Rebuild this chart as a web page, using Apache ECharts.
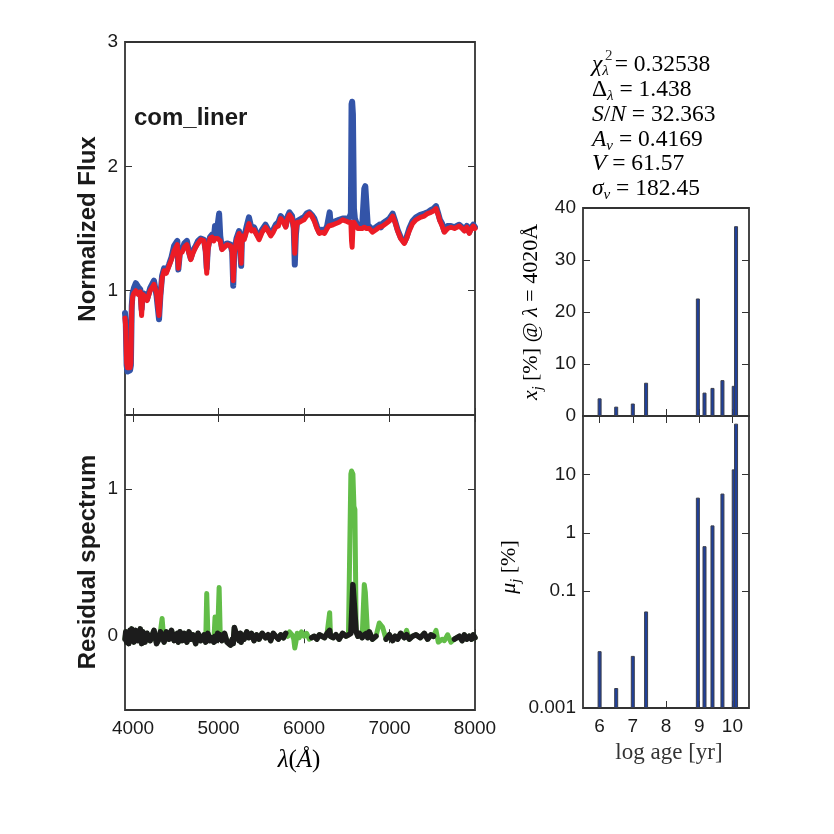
<!DOCTYPE html>
<html>
<head>
<meta charset="utf-8">
<script src="https://cdn.jsdelivr.net/npm/echarts@6/dist/echarts.min.js"></script>
<style>
  html, body { margin: 0; padding: 0; background: #fff; }
  #chart { width: 834px; height: 834px; }
</style>
</head>
<body>
<div id="chart"></div>
<script>
// spectrum grid (Angstrom), rows of 10
const wavelength = [
  3906, 3915, 3925, 3935, 3950, 3965, 3975, 3985, 3995, 4010,
  4032, 4060, 4085, 4100, 4115, 4140, 4164, 4200, 4245, 4275,
  4304, 4320, 4340, 4363, 4390, 4421, 4450, 4480, 4518, 4530,
  4550, 4575, 4600, 4630, 4655, 4675, 4700, 4733, 4760, 4792,
  4830, 4850, 4862, 4875, 4900, 4924, 4945, 4959, 4975, 4990,
  5007, 5020, 5040, 5070, 5100, 5140, 5160, 5172, 5185, 5210,
  5240, 5255, 5265, 5275, 5300, 5330, 5356, 5385, 5415, 5445,
  5474, 5510, 5550, 5580, 5610, 5640, 5669, 5700, 5727, 5760,
  5786, 5810, 5830, 5860, 5880, 5892, 5905, 5920, 5945, 5970,
  6000, 6030, 6062, 6090, 6120, 6150, 6179, 6210, 6240, 6270,
  6290, 6300, 6310, 6340, 6374, 6410, 6452, 6491, 6520, 6540,
  6548, 6556, 6563, 6572, 6584, 6595, 6610, 6630, 6647, 6680,
  6705, 6717, 6731, 6745, 6764, 6800, 6842, 6880, 6900, 6920,
  6960, 6998, 7037, 7065, 7095, 7130, 7173, 7200, 7231, 7270,
  7310, 7360, 7407, 7445, 7485, 7515, 7544, 7570, 7590, 7615,
  7641, 7680, 7719, 7760, 7816, 7850, 7875, 7905, 7933, 7960,
  7980, 8000
]

// observed flux (blue)
const fluxObs = [
  0.82, 0.74, 0.40, 0.35, 0.34, 0.36, 0.40, 0.88, 0.98, 1.02,
  1.06, 1.03, 1.01, 0.85, 0.98, 0.97, 0.93, 1.02, 1.08, 0.96,
  0.77, 0.96, 1.12, 1.18, 1.16, 1.21, 1.27, 1.36, 1.40, 1.17,
  1.32, 1.33, 1.38, 1.40, 1.31, 1.26, 1.32, 1.36, 1.40, 1.42,
  1.41, 1.32, 1.18, 1.34, 1.43, 1.45, 1.42, 1.52, 1.45, 1.44,
  1.62, 1.44, 1.34, 1.37, 1.38, 1.37, 1.31, 1.04, 1.32, 1.42,
  1.48, 1.47, 1.20, 1.45, 1.43, 1.52, 1.59, 1.50, 1.51, 1.46,
  1.43, 1.49, 1.53, 1.49, 1.46, 1.49, 1.53, 1.55, 1.60, 1.57,
  1.52, 1.60, 1.63, 1.60, 1.50, 1.21, 1.45, 1.56, 1.57, 1.58,
  1.59, 1.62, 1.63, 1.61, 1.58, 1.52, 1.47, 1.49, 1.48, 1.52,
  1.53, 1.63, 1.55, 1.55, 1.56, 1.57, 1.58, 1.58, 1.57, 1.56,
  1.62, 2.50, 2.52, 2.42, 1.66, 1.58, 1.55, 1.52, 1.53, 1.52,
  1.82, 1.84, 1.83, 1.53, 1.52, 1.49, 1.51, 1.53, 1.51, 1.54,
  1.56, 1.58, 1.62, 1.56, 1.49, 1.43, 1.39, 1.43, 1.50, 1.56,
  1.59, 1.61, 1.62, 1.63, 1.65, 1.66, 1.68, 1.62, 1.57, 1.54,
  1.48, 1.52, 1.52, 1.51, 1.53, 1.51, 1.49, 1.52, 1.47, 1.51,
  1.53, 1.51
]

// synthetic (model) flux (red)
const fluxModel = [
  0.78, 0.70, 0.42, 0.38, 0.37, 0.38, 0.42, 0.85, 0.95, 0.98,
  1.00, 0.97, 0.99, 0.80, 0.97, 0.95, 0.92, 1.00, 1.05, 0.98,
  0.80, 0.95, 1.10, 1.16, 1.14, 1.20, 1.25, 1.32, 1.37, 1.18,
  1.30, 1.31, 1.35, 1.37, 1.30, 1.25, 1.30, 1.35, 1.38, 1.41,
  1.40, 1.30, 1.14, 1.32, 1.42, 1.43, 1.40, 1.42, 1.41, 1.42,
  1.43, 1.40, 1.33, 1.35, 1.37, 1.36, 1.32, 1.08, 1.30, 1.40,
  1.46, 1.46, 1.22, 1.44, 1.41, 1.48, 1.54, 1.48, 1.49, 1.45,
  1.41, 1.47, 1.51, 1.48, 1.44, 1.47, 1.51, 1.52, 1.58, 1.55,
  1.51, 1.58, 1.61, 1.58, 1.50, 1.30, 1.48, 1.55, 1.55, 1.56,
  1.57, 1.60, 1.62, 1.60, 1.56, 1.50, 1.46, 1.47, 1.46, 1.50,
  1.52, 1.53, 1.52, 1.53, 1.54, 1.55, 1.57, 1.56, 1.55, 1.54,
  1.55, 1.40, 1.35, 1.50, 1.55, 1.54, 1.52, 1.50, 1.51, 1.50,
  1.51, 1.50, 1.50, 1.50, 1.50, 1.47, 1.49, 1.51, 1.50, 1.52,
  1.54, 1.56, 1.60, 1.55, 1.48, 1.42, 1.38, 1.42, 1.48, 1.54,
  1.57, 1.59, 1.60, 1.62, 1.63, 1.64, 1.66, 1.61, 1.56, 1.52,
  1.47, 1.50, 1.51, 1.50, 1.52, 1.50, 1.48, 1.51, 1.46, 1.50,
  1.52, 1.50
]

// residual of fitted pixels (black), null where masked
const residFit = [
  -0.02, 0.03, -0.04, 0.02, -0.05, 0.04, -0.03, 0.05, 0.01, -0.04,
  0.04, -0.03, 0.05, -0.05, 0.03, -0.04, 0.02, -0.03, 0.04, -0.05,
  -0.02, 0.03, 0.01, -0.04, 0.03, -0.02, 0.04, -0.03, 0.02, -0.04,
  0.03, -0.03, 0.02, -0.04, 0.03, -0.02, 0.01, -0.05, 0.02, -0.03,
  0.01, -0.04, -0.05, 0.02, -0.03, -0.01, -0.04, 0.00, -0.03, 0.02,
  -0.02, 0.01, -0.03, 0.02, -0.04, -0.06, -0.02, -0.05, 0.06, 0.01,
  -0.03, 0.02, -0.04, 0.01, -0.02, 0.03, -0.01, 0.02, -0.03, 0.01,
  -0.02, 0.02, -0.01, 0.01, -0.03, 0.02, 0.00, -0.02, 0.01, -0.01,
  0.02, null, null, null, null, null, null, null, null, null,
  null, null, null, -0.01, 0.00, -0.02, 0.01, 0.00, -0.01, 0.02,
  0.01, 0.04, 0.00, -0.01, 0.01, -0.02, 0.02, 0.00, 0.01, 0.00,
  0.02, 0.02, 0.02, 0.35, 0.35, 0.35, 0.03, 0.00, 0.02, -0.01,
  0.01, 0.00, 0.02, -0.01, 0.03, -0.02, 0.00, null, null, null,
  -0.02, 0.01, -0.03, 0.00, -0.02, 0.02, -0.01, 0.01, -0.02, 0.00,
  0.01, -0.01, 0.02, -0.02, 0.01, 0.00, null, null, null, null,
  null, null, null, -0.02, 0.00, -0.03, 0.01, -0.02, 0.00, -0.02,
  0.01, -0.01
]

// residual including masked / clipped pixels (green)
const residAll = [
  -0.02, 0.03, -0.04, 0.02, -0.05, 0.04, -0.03, 0.05, 0.01, -0.04,
  0.04, -0.03, 0.05, -0.05, 0.03, -0.04, 0.02, -0.03, 0.04, -0.05,
  -0.02, 0.03, 0.12, -0.04, 0.03, -0.02, 0.04, -0.03, 0.02, -0.04,
  0.03, -0.03, 0.02, -0.04, 0.03, -0.02, 0.01, -0.05, 0.02, -0.03,
  0.01, -0.04, 0.29, 0.02, -0.03, -0.01, -0.04, 0.13, -0.03, 0.02,
  0.33, 0.01, -0.03, 0.02, -0.04, -0.06, -0.02, -0.05, 0.06, 0.01,
  -0.03, 0.02, -0.04, 0.01, -0.02, 0.03, -0.01, 0.02, -0.03, 0.01,
  -0.02, 0.02, -0.01, 0.01, -0.03, 0.02, 0.00, -0.02, 0.01, -0.01,
  0.02, 0.00, 0.03, 0.01, -0.02, -0.08, -0.04, 0.02, -0.01, 0.03,
  0.00, 0.02, -0.02, -0.01, 0.00, -0.02, 0.01, 0.00, -0.01, 0.02,
  0.01, 0.16, 0.00, -0.01, 0.01, -0.02, 0.02, 0.00, 0.01, 0.00,
  1.10, 1.12, 1.12, 1.10, 0.88, 0.86, 0.03, 0.00, 0.02, -0.01,
  0.35, 0.30, 0.29, -0.01, 0.03, -0.02, 0.00, 0.09, 0.10, 0.06,
  -0.02, 0.01, -0.03, 0.00, -0.02, 0.02, -0.01, 0.04, -0.02, 0.00,
  0.01, -0.01, 0.02, -0.02, 0.01, 0.00, 0.04, -0.04, -0.05, -0.02,
  -0.03, 0.01, -0.04, -0.02, 0.00, -0.03, 0.01, -0.02, 0.00, -0.02,
  0.01, -0.01
]

// population vectors
const logAge = [6.0, 6.5, 7.0, 7.4, 8.96, 9.16, 9.4, 9.7, 10.04, 10.11]
const lightFrac = [3.4, 1.8, 2.4, 6.4, 22.6, 4.5, 5.4, 6.9, 5.8, 36.5]
const massFrac = [0.0094, 0.0022, 0.0078, 0.045, 4.0, 0.59, 1.34, 4.7, 12.2, 74]

// ticks
const waveTicks = [4000, 5000, 6000, 7000, 8000]
const fluxTicks = [1, 2, 3]
const residTicks = [0, 1]
const ageTicks = [6, 7, 8, 9, 10]
const massTicks = [0.001, 0.1, 1, 10]

// fit summary
const statText = [
  '{i|χ}{sb|λ}{eq| = }{r|0.32538}',
  '{r|Δ}{sb|λ}{eq| = }{r|1.438}',
  '{i|S}{r|/}{i|N}{eq| = }{r|32.363}',
  '{i|A}{sb|v}{eq| = }{r|0.4169}',
  '{i|V}{eq| = }{r|61.57}',
  '{i|σ}{sb|v}{eq| = }{r|182.45}'
]

const SANS = 'Liberation Sans'
const SERIF = 'Liberation Serif'
const pair = (xs, ys) => xs.map((x, i) => [x, ys[i]])

function axis (grid, pos, type, min, max, ticks, showLabel, fmt) {
  let margin = 7
  if (pos === 'bottom') margin = 9
  const a = {
    type: type,
    gridIndex: grid,
    position: pos,
    min: min,
    max: max,
    axisLine: { show: false },
    splitLine: { show: false },
    axisTick: { show: true, inside: true, length: 7, lineStyle: { color: '#333', width: 1 } },
    axisLabel: {
      show: showLabel,
      color: '#1a1a1a',
      fontFamily: SANS,
      fontSize: 19,
      margin: margin,
      formatter: fmt || (v => String(v))
    }
  }
  if (ticks) {
    a.axisTick.customValues = ticks
    a.axisLabel.customValues = ticks
  }
  if (type === 'log') { a.logBase = 10; a.startValue = min }
  return a
}

const serifRich = {
  r: { fontFamily: SERIF, fontSize: 22, color: '#333', lineHeight: 28 },
  i: { fontFamily: SERIF, fontSize: 22, fontStyle: 'italic', color: '#333', lineHeight: 28 },
  sb: { fontFamily: SERIF, fontSize: 14, fontStyle: 'italic', color: '#333', lineHeight: 15, verticalAlign: 'bottom' }
}
const statRich = {
  r: { fontFamily: SERIF, fontSize: 23.5, color: '#333', lineHeight: 28 },
  i: { fontFamily: SERIF, fontSize: 23.5, fontStyle: 'italic', color: '#333', lineHeight: 28 },
  eq: { fontFamily: SERIF, fontSize: 23.5, color: '#333', lineHeight: 28 },
  sb: { fontFamily: SERIF, fontSize: 15, fontStyle: 'italic', color: '#333', lineHeight: 15, verticalAlign: 'bottom' }
}

const graphics = [
  { type: 'text', x: 134, y: 118, style: { text: 'com_liner', font: 'bold 24px ' + SANS, fill: '#1a1a1a', textVerticalAlign: 'middle' } },
  { type: 'text', x: 88, y: 229, rotation: Math.PI / 2, style: { text: 'Normalized Flux', font: 'bold 24px ' + SANS, fill: '#1a1a1a', textAlign: 'center', textVerticalAlign: 'middle' } },
  { type: 'text', x: 88, y: 562, rotation: Math.PI / 2, style: { text: 'Residual spectrum', font: 'bold 24px ' + SANS, fill: '#1a1a1a', textAlign: 'center', textVerticalAlign: 'middle' } },
  { type: 'text', x: 299, y: 760, style: { text: '{i|λ}{r|(}{i|Å}{r|)}', rich: { r: { fontFamily: SERIF, fontSize: 25, color: '#333' }, i: { fontFamily: SERIF, fontSize: 25, fontStyle: 'italic', color: '#333' } }, textAlign: 'center', textVerticalAlign: 'middle' } },
  { type: 'text', x: 669, y: 753, style: { text: 'log age [yr]', font: '23px ' + SERIF, fill: '#333', textAlign: 'center', textVerticalAlign: 'middle' } },
  { type: 'text', x: 531, y: 312, rotation: Math.PI / 2, style: { text: '{i|x}{sb|j}{r| [%] @ }{i|λ}{r| = 4020Å}', rich: serifRich, textAlign: 'center', textVerticalAlign: 'middle' } },
  { type: 'text', x: 509, y: 567, rotation: Math.PI / 2, style: { text: '{i|μ}{sb|j}{r| [%]}', rich: serifRich, textAlign: 'center', textVerticalAlign: 'middle' } }
]
statText.forEach((t, k) => {
  graphics.push({ type: 'text', x: 592, y: 65 + k * 24.8, style: { text: t, rich: statRich, textVerticalAlign: 'middle' } })
})
// superscript 2 of chi
graphics.push({ type: 'text', x: 605, y: 56, style: { text: '2', font: '15px ' + SERIF, fill: '#333', textVerticalAlign: 'middle' } })

const gridStyle = { show: true, borderColor: '#333', borderWidth: 1.8, backgroundColor: 'transparent' }

const myChart = echarts.init(document.getElementById('chart'), null, { renderer: 'canvas' })
myChart.setOption({
  animation: false,
  backgroundColor: '#fff',
  grid: [
    Object.assign({ left: 125, top: 42, width: 350, height: 373 }, gridStyle),
    Object.assign({ left: 125, top: 415, width: 350, height: 295 }, gridStyle),
    Object.assign({ left: 583, top: 208, width: 166, height: 208 }, gridStyle),
    Object.assign({ left: 583, top: 416, width: 166, height: 292 }, gridStyle)
  ],
  xAxis: [
    axis(0, 'bottom', 'value', 3906, 8000, waveTicks, false),
    axis(0, 'top', 'value', 3906, 8000, waveTicks, false),
    axis(1, 'bottom', 'value', 3906, 8000, waveTicks, true),
    axis(1, 'top', 'value', 3906, 8000, waveTicks, false),
    axis(2, 'bottom', 'value', 5.5, 10.5, ageTicks, false),
    axis(2, 'top', 'value', 5.5, 10.5, ageTicks, false),
    axis(3, 'bottom', 'value', 5.5, 10.5, ageTicks, true),
    axis(3, 'top', 'value', 5.5, 10.5, ageTicks, false)
  ],
  yAxis: [
    axis(0, 'left', 'value', 0, 3, fluxTicks, true),
    axis(0, 'right', 'value', 0, 3, fluxTicks, false),
    axis(1, 'left', 'value', -0.5, 1.5, residTicks, true),
    axis(1, 'right', 'value', -0.5, 1.5, residTicks, false),
    Object.assign(axis(2, 'left', 'value', 0, 40, null, true), { interval: 10 }),
    Object.assign(axis(2, 'right', 'value', 0, 40, null, false), { interval: 10 }),
    axis(3, 'left', 'log', 0.001, 100, massTicks, true, v => String(+(+v).toPrecision(3))),
    axis(3, 'right', 'log', 0.001, 100, massTicks, false)
  ],
  series: [
    {
      type: 'line', xAxisIndex: 0, yAxisIndex: 0, showSymbol: false,
      data: pair(wavelength, fluxObs),
      lineStyle: { color: '#3354a8', width: 6, join: 'round', cap: 'round' }
    },
    {
      type: 'line', xAxisIndex: 0, yAxisIndex: 0, showSymbol: false,
      data: pair(wavelength, fluxModel),
      lineStyle: { color: '#ec1c26', width: 5, join: 'round', cap: 'round' }
    },
    {
      type: 'line', xAxisIndex: 2, yAxisIndex: 2, showSymbol: false,
      data: pair(wavelength, residAll),
      lineStyle: { color: '#62bd48', width: 5, join: 'round', cap: 'round' }
    },
    {
      type: 'line', xAxisIndex: 2, yAxisIndex: 2, showSymbol: false, connectNulls: false,
      data: pair(wavelength, residFit),
      lineStyle: { color: '#1c1c1c', width: 5.5, join: 'round', cap: 'round' }
    },
    {
      type: 'bar', xAxisIndex: 4, yAxisIndex: 4, barWidth: 4,
      data: pair(logAge, lightFrac),
      itemStyle: { color: '#20409a', borderColor: '#3c3f4c', borderWidth: 1 }
    },
    {
      type: 'bar', xAxisIndex: 6, yAxisIndex: 6, barWidth: 4,
      data: pair(logAge, massFrac),
      itemStyle: { color: '#20409a', borderColor: '#3c3f4c', borderWidth: 1 }
    }
  ],
  graphic: graphics
})
window.addEventListener('resize', () => { myChart.resize() })
</script>
</body>
</html>
